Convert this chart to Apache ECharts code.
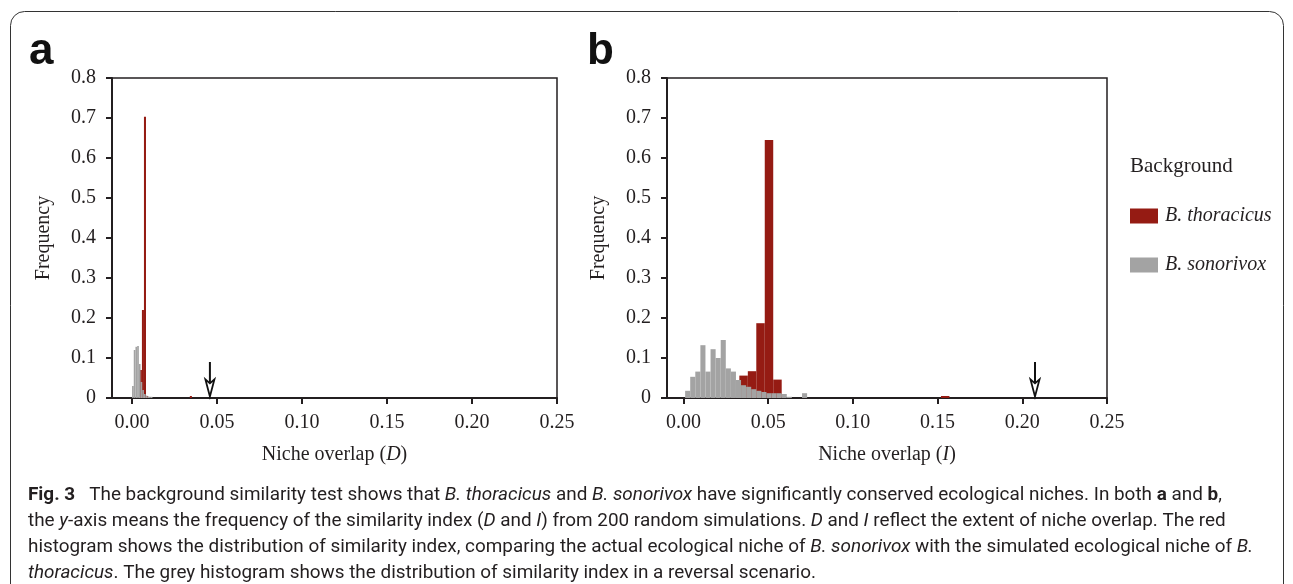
<!DOCTYPE html>
<html>
<head>
<meta charset="utf-8">
<script src="https://cdn.jsdelivr.net/npm/echarts@6/dist/echarts.min.js"></script>
<style>
html,body{margin:0;padding:0;background:#fff;}
#chart{width:1293px;height:584px;}
</style>
</head>
<body>
<div id="chart"></div>
<script>
// ---------- DATA ----------
// Panel a : niche overlap D
const aRedLo   = [0.0046, 0.0058, 0.0070, 0.0082, 0.0340];
const aRedHi   = [0.0058, 0.0070, 0.0082, 0.0094, 0.0352];
const aRedFreq = [0.070, 0.220, 0.703, 0.005, 0.005];

const aGreyLo   = [0.000, 0.001, 0.002, 0.003, 0.004, 0.005, 0.006, 0.007, 0.008, 0.009, 0.010, 0.011];
const aGreyHi   = [0.001, 0.002, 0.003, 0.004, 0.005, 0.006, 0.007, 0.008, 0.009, 0.010, 0.011, 0.012];
const aGreyFreq = [0.030, 0.120, 0.128, 0.130, 0.085, 0.040, 0.020, 0.010, 0.006, 0.004, 0.003, 0.003];

const aObserved = 0.0458;   // arrow, observed D

// Panel b : niche overlap I
const bRedLo   = [0.033, 0.038, 0.043, 0.048, 0.053, 0.152];
const bRedHi   = [0.038, 0.043, 0.048, 0.053, 0.058, 0.157];
const bRedFreq = [0.056, 0.067, 0.187, 0.645, 0.046, 0.005];

const bGreyLo   = [0.001, 0.004, 0.007, 0.010, 0.013, 0.016, 0.019, 0.022, 0.025, 0.028, 0.031, 0.034, 0.037, 0.040, 0.043, 0.046, 0.049, 0.052, 0.055, 0.058, 0.061, 0.070];
const bGreyHi   = [0.004, 0.007, 0.010, 0.013, 0.016, 0.019, 0.022, 0.025, 0.028, 0.031, 0.034, 0.037, 0.040, 0.043, 0.046, 0.049, 0.052, 0.055, 0.058, 0.061, 0.064, 0.073];
const bGreyFreq = [0.018, 0.053, 0.066, 0.132, 0.066, 0.122, 0.100, 0.145, 0.074, 0.066, 0.045, 0.032, 0.028, 0.022, 0.018, 0.015, 0.012, 0.012, 0.012, 0.010, 0.003, 0.012];

const bObserved = 0.2075;   // arrow, observed I

const arrowTop = 0.09, arrowTip = 0.004;

const xTicks = [0, 0.05, 0.10, 0.15, 0.20, 0.25];
const yTicks = [0, 0.1, 0.2, 0.3, 0.4, 0.5, 0.6, 0.7, 0.8];
const seriesNames = ['B. thoracicus', 'B. sonorivox'];

// ---------- STYLE ----------
const RED = '#951b13', GREY = '#a3a3a3', INK = '#231f20';
const SERIF = '"Liberation Serif", "DejaVu Serif", serif';
const SANS = 'Roboto, "Noto Sans", sans-serif';
const CAP = 18.9;

function zip(lo, hi, f){ return lo.map((v,i)=>[v, hi[i], f[i]]); }

function histRender(color){
  return function(params, api){
    const p0 = api.coord([api.value(0), 0]);
    const p1 = api.coord([api.value(1), api.value(2)]);
    return {type:'rect', shape:{x:p0[0], y:p1[1], width:p1[0]-p0[0], height:p0[1]-p1[1]},
            style:{fill:color}};
  };
}
function arrowRender(params, api){
  const top = api.coord([api.value(0), api.value(1)]);
  const tip = api.coord([api.value(0), api.value(2)]);
  const x = top[0];
  const headTop = tip[1] - 17;
  return {type:'group', children:[
    {type:'line', shape:{x1:x, y1:top[1], x2:x, y2:headTop+3}, style:{stroke:'#111', lineWidth:2}},
    {type:'polygon', shape:{points:[[x-4.5,headTop],[x,headTop+4],[x+4.5,headTop],[x,tip[1]]]},
     style:{fill:'#fff', stroke:'#111', lineWidth:1.8}}
  ]};
}

function xAxis(grid, min, name){
  return {
    type:'value', gridIndex:grid, min:min, max:0.25,
    name:name, nameLocation:'middle', nameGap:47,
    nameTextStyle:{fontFamily:SERIF, fontSize:20, color:INK, rich:{i:{fontFamily:SERIF, fontSize:20, fontStyle:'italic', color:INK}}},
    axisLine:{show:true, onZero:false, lineStyle:{color:INK, width:2}},
    axisTick:{show:true, customValues:xTicks, length:6, inside:false, lineStyle:{color:INK, width:2}},
    axisLabel:{customValues:xTicks, formatter:v=>v.toFixed(2), fontFamily:SERIF, fontSize:20, color:INK, margin:15},
    splitLine:{show:false}
  };
}
function yAxis(grid){
  return {
    type:'value', gridIndex:grid, min:0, max:0.8, interval:0.1,
    name:'Frequency', nameLocation:'middle', nameGap:58, nameRotate:90,
    nameTextStyle:{fontFamily:SERIF, fontSize:20, color:INK},
    axisLine:{show:true, onZero:false, lineStyle:{color:INK, width:2}},
    axisTick:{show:true, length:6, lineStyle:{color:INK, width:2}},
    axisLabel:{formatter:v=> v===0 ? '0' : v.toFixed(1), fontFamily:SERIF, fontSize:20, color:INK, margin:16},
    splitLine:{show:false}
  };
}

const chart = echarts.init(document.getElementById('chart'), null, {renderer:'canvas'});
const option = {
  animation:false,
  backgroundColor:'#fff',
  grid:[
    {left:112, top:78, width:445, height:320, show:true, borderColor:INK, borderWidth:1.5, backgroundColor:'transparent'},
    {left:667, top:78, width:440, height:320, show:true, borderColor:INK, borderWidth:1.5, backgroundColor:'transparent'}
  ],
  xAxis:[ xAxis(0, -0.0118, 'Niche overlap ({i|D})'), xAxis(1, -0.0097, 'Niche overlap ({i|I})') ],
  yAxis:[ yAxis(0), yAxis(1) ],
  legend:{
    data:seriesNames, orient:'vertical', left:1125, top:201, itemWidth:28, itemHeight:15, itemGap:29,
    icon:'rect', selectedMode:false,
    textStyle:{fontFamily:SERIF, fontSize:20, fontStyle:'italic', color:INK, padding:[0,0,0,2]}
  },
  series:[
    {name:seriesNames[0], type:'custom', xAxisIndex:0, yAxisIndex:0, renderItem:histRender(RED), itemStyle:{color:RED},
     encode:{x:[0,1], y:2}, data:zip(aRedLo, aRedHi, aRedFreq), z:2},
    {name:seriesNames[1], type:'custom', xAxisIndex:0, yAxisIndex:0, renderItem:histRender(GREY), itemStyle:{color:GREY},
     encode:{x:[0,1], y:2}, data:zip(aGreyLo, aGreyHi, aGreyFreq), z:3},
    {name:seriesNames[0], type:'custom', xAxisIndex:1, yAxisIndex:1, renderItem:histRender(RED), itemStyle:{color:RED},
     encode:{x:[0,1], y:2}, data:zip(bRedLo, bRedHi, bRedFreq), z:2},
    {name:seriesNames[1], type:'custom', xAxisIndex:1, yAxisIndex:1, renderItem:histRender(GREY), itemStyle:{color:GREY},
     encode:{x:[0,1], y:2}, data:zip(bGreyLo, bGreyHi, bGreyFreq), z:3},
    {name:'arrowA', type:'custom', xAxisIndex:0, yAxisIndex:0, renderItem:arrowRender, encode:{x:0, y:[1,2]},
     data:[[aObserved, arrowTop, arrowTip]], z:5},
    {name:'arrowB', type:'custom', xAxisIndex:1, yAxisIndex:1, renderItem:arrowRender, encode:{x:0, y:[1,2]},
     data:[[bObserved, arrowTop, arrowTip]], z:5}
  ],
  graphic:[
    {type:'rect', shape:{x:10.5, y:11.5, width:1273, height:700, r:14}, style:{fill:'none', stroke:'#333', lineWidth:1}, z:-1},
    {type:'text', x:29, y:52, style:{text:'a', fontFamily:'"Liberation Sans", Arial, sans-serif', fontWeight:'bold', fontSize:44, fill:'#111', verticalAlign:'middle'}},
    {type:'text', x:587, y:52, style:{text:'b', fontFamily:'"Liberation Sans", Arial, sans-serif', fontWeight:'bold', fontSize:44, fill:'#111', verticalAlign:'middle'}},
    {type:'text', x:1130, y:166, style:{text:'Background', fontFamily:SERIF, fontSize:21, fill:INK, verticalAlign:'middle'}},
    {type:'group', left:28, top:486, children:[
      {type:'text', x:0, y:0, style:{
        text:'{b|Fig. 3}   The background similarity test shows that {i|B. thoracicus} and {i|B. sonorivox} have significantly conserved ecological niches. In both {b|a} and {b|b},',
        fontFamily:SANS, fontSize:CAP, fill:'#231f20',
        rich:{b:{fontFamily:SANS, fontSize:CAP, fontWeight:'bold', fill:'#231f20'}, i:{fontFamily:SANS, fontSize:CAP, fontStyle:'italic', fill:'#231f20'}}}},
      {type:'text', x:0, y:26, style:{
        text:'the {i|y}-axis means the frequency of the similarity index ({i|D} and {i|I}) from 200 random simulations. {i|D} and {i|I} reflect the extent of niche overlap. The red',
        fontFamily:SANS, fontSize:CAP, fill:'#231f20',
        rich:{i:{fontFamily:SANS, fontSize:CAP, fontStyle:'italic', fill:'#231f20'}}}},
      {type:'text', x:0, y:52, style:{
        text:'histogram shows the distribution of similarity index, comparing the actual ecological niche of {i|B. sonorivox} with the simulated ecological niche of {i|B.}',
        fontFamily:SANS, fontSize:CAP, fill:'#231f20',
        rich:{i:{fontFamily:SANS, fontSize:CAP, fontStyle:'italic', fill:'#231f20'}}}},
      {type:'text', x:0, y:78, style:{
        text:'{i|thoracicus}. The grey histogram shows the distribution of similarity index in a reversal scenario.',
        fontFamily:SANS, fontSize:CAP, fill:'#231f20',
        rich:{i:{fontFamily:SANS, fontSize:CAP, fontStyle:'italic', fill:'#231f20'}}}}
    ]}
  ]
};
chart.setOption(option);
</script>
</body>
</html>
